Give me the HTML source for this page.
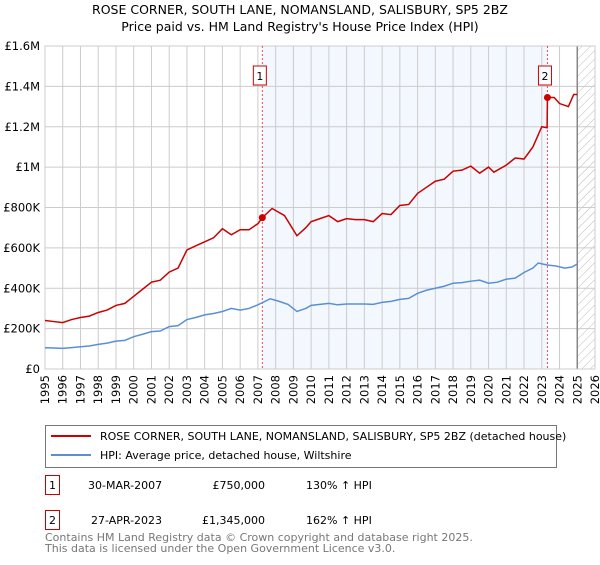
<!DOCTYPE html>
<html><head><meta charset="utf-8"><style>
body{margin:0;background:#fff;font-family:"Liberation Sans","DejaVu Sans",sans-serif;}
svg text{font-family:"DejaVu Sans","Liberation Sans",sans-serif;}
</style></head><body>
<svg id="c" width="600" height="560" xmlns="http://www.w3.org/2000/svg">
<defs><pattern id="h" width="6" height="6" patternUnits="userSpaceOnUse" patternTransform="rotate(45)"><line x1="0" y1="0" x2="0" y2="6" stroke="#bbb" stroke-width="1"/></pattern></defs>
<text x="300" y="14" text-anchor="middle" font-size="12.5">ROSE CORNER, SOUTH LANE, NOMANSLAND, SALISBURY, SP5 2BZ</text>
<text x="300" y="31" text-anchor="middle" font-size="12.5">Price paid vs. HM Land Registry's House Price Index (HPI)</text>
<g id="plot"></g>
<g>
<rect x="45.5" y="425.5" width="511" height="42" fill="#fff" stroke="#777"/>
<line x1="51" y1="436" x2="91" y2="436" stroke="#cc0000" stroke-width="2"/>
<text x="100" y="440" font-size="11">ROSE CORNER, SOUTH LANE, NOMANSLAND, SALISBURY, SP5 2BZ (detached house)</text>
<line x1="51" y1="455" x2="91" y2="455" stroke="#5b8fd4" stroke-width="2"/>
<text x="100" y="459" font-size="11">HPI: Average price, detached house, Wiltshire</text>
</g>
<g font-size="11">
<rect x="45.5" y="475.5" width="14" height="19" fill="none" stroke="#cc0000"/><text x="52.5" y="489" text-anchor="middle">1</text>
<text x="88" y="489">30-MAR-2007</text><text x="265" y="489" text-anchor="end">£750,000</text><text x="306" y="489">130% ↑ HPI</text>
<rect x="45.5" y="510.5" width="14" height="19" fill="none" stroke="#cc0000"/><text x="52.5" y="524" text-anchor="middle">2</text>
<text x="91" y="524">27-APR-2023</text><text x="265" y="524" text-anchor="end">£1,345,000</text><text x="306" y="524">162% ↑ HPI</text>
</g>
<text x="45" y="541" font-size="11" fill="#777">Contains HM Land Registry data © Crown copyright and database right 2025.</text>
<text x="45" y="552" font-size="11" fill="#777">This data is licensed under the Open Government Licence v3.0.</text>
</svg>
<script>
const hpiYears=[1995,1995.5,1996,1996.5,1997,1997.5,1998,1998.5,1999,1999.5,2000,2000.5,2001,2001.5,2002,2002.5,2003,2003.5,2004,2004.5,2005,2005.5,2006,2006.5,2007,2007.7,2008.2,2008.7,2009.2,2009.7,2010,2010.5,2011,2011.5,2012,2012.5,2013,2013.5,2014,2014.5,2015,2015.5,2016,2016.5,2017,2017.5,2018,2018.5,2019,2019.5,2020,2020.5,2021,2021.5,2022,2022.5,2022.8,2023.3,2023.8,2024.3,2024.7,2025];
const hpiValues=[105,104,102,106,110,114,122,128,138,142,160,172,185,188,210,215,245,255,268,275,285,300,292,300,318,348,335,320,285,300,315,320,325,318,322,322,322,320,330,335,345,350,375,390,400,410,425,428,435,440,425,430,445,450,478,500,525,515,510,500,505,520];
const redYears=[1995,1995.5,1996,1996.5,1997,1997.5,1998,1998.5,1999,1999.5,2000,2000.5,2001,2001.5,2002,2002.5,2003,2003.5,2004,2004.5,2005,2005.5,2006,2006.5,2007,2007.25,2007.8,2008.5,2009.2,2009.7,2010,2010.5,2011,2011.5,2012,2012.5,2013,2013.5,2014,2014.5,2015,2015.5,2016,2016.5,2017,2017.5,2018,2018.5,2019,2019.5,2020,2020.3,2021,2021.5,2022,2022.5,2023,2023.3,2023.32,2023.7,2024,2024.5,2024.8,2025];
const redValues=[240,235,230,245,255,262,280,292,315,325,360,395,430,440,480,500,590,610,630,650,695,665,690,690,720,750,795,760,660,700,730,745,760,730,745,740,740,730,770,765,810,815,870,900,930,940,980,985,1005,970,1000,975,1010,1045,1040,1100,1200,1195,1345,1345,1315,1300,1360,1360];
const sales=[[2007.25,750,'1'],[2023.32,1345,'2']];
const yTicks=[0,200,400,600,800,1000,1200,1400,1600];
const yTickLabels=['£0','£200K','£400K','£600K','£800K','£1M','£1.2M','£1.4M','£1.6M'];
const xMin=1995,xMax=2026,L=45,R=595,T=46,B=369,yMax=1600;
const X=v=>L+(v-xMin)/(xMax-xMin)*(R-L);
const Y=v=>B-v/yMax*(B-T);
const g=document.getElementById('plot');
const NS='http://www.w3.org/2000/svg';
function mk(t,a,p){const e=document.createElementNS(NS,t);for(const k in a)e.setAttribute(k,a[k]);(p||g).appendChild(e);return e;}
const bg=mk('rect',{x:X(sales[0][0]),y:T,width:X(sales[1][0])-X(sales[0][0]),height:B-T,fill:'#eef3fd',opacity:0.7});


const ht=mk('rect',{x:X(2025),y:T,width:R-X(2025),height:B-T,fill:'url(#h)'});


for(let yr=1995;yr<=2026;yr++){
 const l=mk('line',{x1:X(yr),x2:X(yr),y1:T,y2:B,stroke:'#ccc','stroke-width':1});
 
 
 const tx=X(yr)+4,ty=375;
 const t=mk('text',{x:tx,y:ty,'text-anchor':'end','font-size':11.5,transform:'rotate(-90 '+tx+' '+ty+')'});
 
 
 t.textContent=yr;
}
yTicks.forEach((v,i)=>{
 const l=mk('line',{x1:L,x2:R,y1:Y(v),y2:Y(v),stroke:'#ccc','stroke-width':1});
 
 
 const t=mk('text',{x:40,y:Y(v)+4,'text-anchor':'end','font-size':11.5});
 
 
 t.textContent=yTickLabels[i];
});
const el=mk('line',{x1:X(2025),x2:X(2025),y1:T,y2:B,stroke:'#888','stroke-width':1.5});


const ax=mk('rect',{x:L,y:T,width:R-L,height:B-T,fill:'none',stroke:'#ccc'});


sales.forEach(s=>{
 const d=mk('line',{x1:X(s[0]),x2:X(s[0]),y1:T,y2:B,stroke:'#e05050','stroke-dasharray':'2,2','stroke-width':1});
 
 
 const b=mk('rect',{x:X(s[0])-9,y:66,width:13,height:19,fill:'#fff',stroke:'#cc0000'});
 
 
 const t=mk('text',{x:X(s[0])-2.5,y:80,'text-anchor':'middle','font-size':11});
 
 
 t.textContent=s[2];
});
const hp=mk('polyline',{points:hpiYears.map((y,i)=>X(y)+','+Y(hpiValues[i])).join(' '),fill:'none',stroke:'#5b8fd4','stroke-width':1.5});


const rp=mk('polyline',{points:redYears.map((y,i)=>X(y)+','+Y(redValues[i])).join(' '),fill:'none',stroke:'#cc0000','stroke-width':1.5});


sales.forEach(s=>{
 const c=mk('circle',{cx:X(s[0]),cy:Y(s[1]),r:3.5,fill:'#cc0000'});
 
 
});
</script>
</body></html>
